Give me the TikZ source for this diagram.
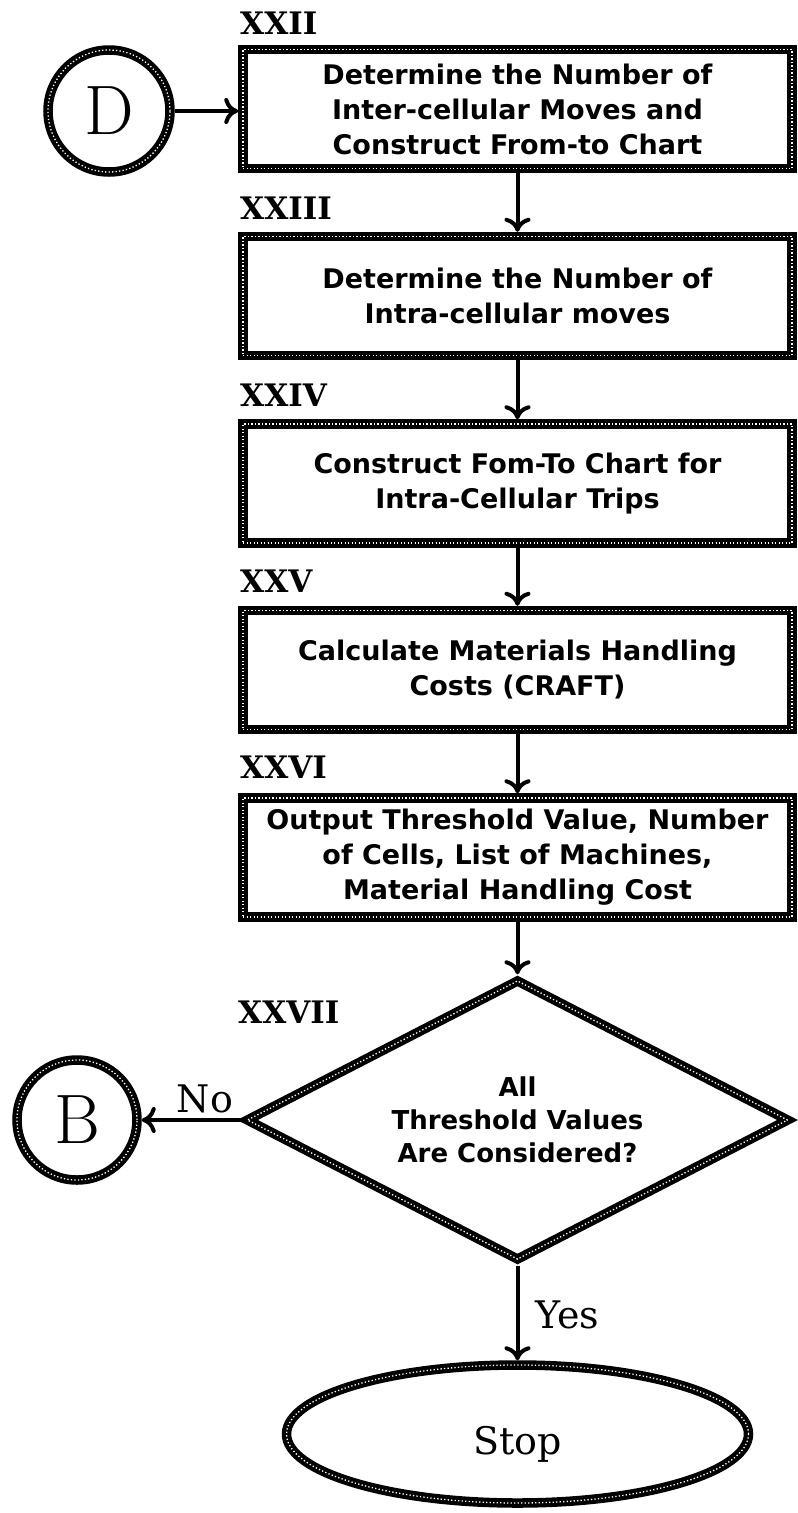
\documentclass[tikz,border=0pt]{standalone}
\usepackage{fontspec}
\newfontfamily\serfont{DejaVu Serif}
\newfontfamily\boxfont{DejaVu Sans}
\usetikzlibrary{shapes.geometric, arrows.meta}
\begin{document}
\begin{tikzpicture}[x=1pt, y=-1pt,
  rope/.style={draw=black, line width=9.5pt,
    postaction={draw=white, line width=1.3pt, dash pattern=on 1.3pt off 2.2pt}},
  stepbox/.style={rope, rectangle, minimum width=549pt, minimum height=119pt,
    inner sep=0pt, align=center, font=\boxfont\bfseries\fontsize{27}{35}\selectfont},
  numlabel/.style={anchor=west, inner sep=0pt, font=\serfont\bfseries\fontsize{31}{31}\selectfont},
  connector/.style={rope, circle, inner sep=0pt, font=\fontsize{70}{70}\selectfont},
  decision/.style={rope, diamond, aspect=1.93, minimum width=544pt, minimum height=282pt,
    inner sep=0pt, align=center, font=\boxfont\bfseries\fontsize{26}{33}\selectfont},
  terminal/.style={rope, ellipse, minimum width=462pt, minimum height=138pt, inner sep=0pt,
    text height=40pt, text depth=0pt, font=\serfont\fontsize{38}{38}\selectfont},
  answer/.style={inner sep=0pt, font=\serfont\fontsize{38}{38}\selectfont},
  flow/.style={line width=4pt, -{To[length=14pt,width=26pt]}}
]
\useasboundingbox (0,0) rectangle (798,1513);

\node[stepbox] (b1) at (517.5,109) {Determine the Number of\\Inter-cellular Moves and\\Construct From-to Chart};
\node[stepbox] (b2) at (517.5,296) {Determine the Number of\\Intra-cellular moves};
\node[stepbox] (b3) at (517.5,483.5) {Construct Fom-To Chart for\\Intra-Cellular Trips};
\node[stepbox] (b4) at (517.5,670) {Calculate Materials Handling\\Costs (CRAFT)};
\node[stepbox] (b5) at (517.5,857.5) {Output Threshold Value, Number\\of Cells, List of Machines,\\Material Handling Cost};

\node[numlabel] (l1) at (240,23) {XXII};
\node[numlabel] (l2) at (240,208) {XXIII};
\node[numlabel] (l3) at (240,395) {XXIV};
\node[numlabel] (l4) at (240,581) {XXV};
\node[numlabel] (l5) at (240,767) {XXVI};
\node[numlabel] (l6) at (238,1012) {XXVII};

\node[connector, minimum size=122pt] (D) at (109,111) {D};
\node[connector, minimum size=120pt] (B) at (77,1120) {B};

\node[decision] (q) at (517.5,1120) {All\\Threshold Values\\Are Considered?};
\node[terminal] (stop) at (517.5,1434) {Stop};

\node[answer, anchor=base] (no) at (205,1112) {No};
\node[answer, anchor=base west] (yes) at (535,1328) {Yes};

\draw[flow] (D.east) -- (D.east -| b1.west);
\draw[flow] (b1.south) -- (b2.north);
\draw[flow] (b2.south) -- (b3.north);
\draw[flow] (b3.south) -- (b4.north);
\draw[flow] (b4.south) -- (b5.north);
\draw[flow] (b5.south) -- (q.north);
\draw[flow] (q.west) -- (B.east);
\draw[flow] (q.south) -- (stop.north);
\end{tikzpicture}
\end{document}
